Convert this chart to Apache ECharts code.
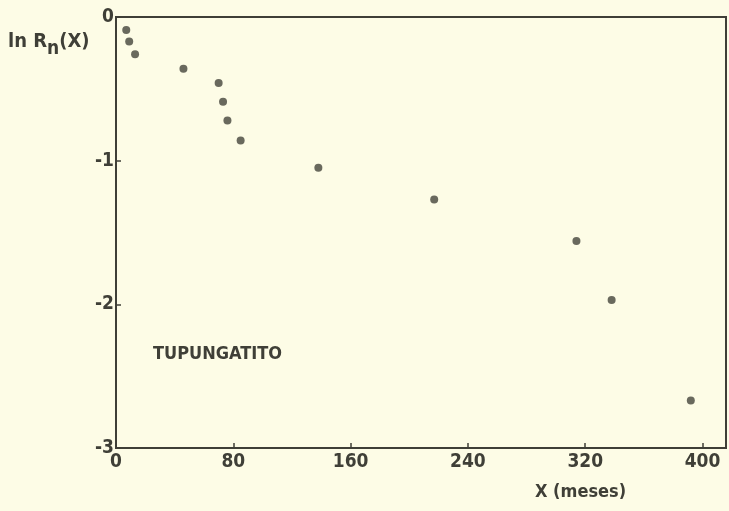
<!DOCTYPE html>
<html>
<head>
<meta charset="utf-8">
<script src="https://cdn.jsdelivr.net/npm/echarts@6/dist/echarts.min.js"></script>
<style>
  html, body { margin: 0; padding: 0; background: #fdfce6; }
  #chart { width: 729px; height: 511px; }
</style>
</head>
<body>
<div id="chart"></div>
<script>
// meses (X) y ln Rn(X)
const months = [7, 9, 13, 46, 70, 73, 76, 85, 138, 217, 314, 338, 392]
const lnR = [-0.09, -0.17, -0.26, -0.36, -0.46, -0.59, -0.72, -0.86, -1.05, -1.27, -1.56, -1.97, -2.67]
const xTicks = [0, 80, 160, 240, 320, 400]
const yTicks = [-3, -2, -1, 0]

const ink = '#3f3f37'
const font = '"DejaVu Sans Condensed", "DejaVu Sans", sans-serif'

const chart = echarts.init(document.getElementById('chart'))

const points = months.map((m, i) => [m, lnR[i]])

chart.setOption({
  backgroundColor: '#fdfce6',
  animation: false,
  grid: {
    left: 116,
    right: 3,
    top: 17,
    bottom: 63,
    show: true,
    borderColor: ink,
    borderWidth: 2,
    backgroundColor: 'transparent'
  },
  xAxis: {
    type: 'value',
    min: 0,
    max: 416,
    interval: 80,
    splitLine: { show: false },
    axisLine: { show: true, onZero: false, lineStyle: { color: ink, width: 2 } },
    axisTick: { show: true, inside: true, length: 5, lineStyle: { color: ink, width: 1.5 } },
    axisLabel: {
      color: ink,
      fontFamily: font,
      fontSize: 19,
      fontWeight: 'bold',
      margin: 5,
      showMaxLabel: false,
      formatter: v => (xTicks.includes(v) ? String(v) : '')
    }
  },
  yAxis: {
    type: 'value',
    min: -3,
    max: 0,
    interval: 1,
    splitLine: { show: false },
    axisLine: { show: true, onZero: false, lineStyle: { color: ink, width: 2 } },
    axisTick: { show: true, inside: true, length: 5, lineStyle: { color: ink, width: 1.5 } },
    axisLabel: {
      color: ink,
      fontFamily: font,
      fontSize: 19,
      fontWeight: 'bold',
      margin: 2,
      formatter: v => (yTicks.includes(v) ? String(v) : '')
    }
  },
  graphic: [
    {
      type: 'text',
      left: 8,
      top: 29,
      style: {
        text: '{a|ln R}{s|n}{a|(X)}',
        rich: {
          a: { fontFamily: font, fontSize: 20, fontWeight: 'bold', fill: ink, verticalAlign: 'top', lineHeight: 24 },
          s: { fontFamily: font, fontSize: 19, fontWeight: 'bold', fill: ink, padding: [11, 0, 0, 0], lineHeight: 24 }
        }
      }
    },
    {
      type: 'text',
      left: 535,
      top: 483,
      style: { text: 'X (meses)', fontFamily: font, fontSize: 18, fontWeight: 'bold', fill: ink }
    },
    {
      type: 'text',
      left: 153,
      top: 345,
      style: { text: 'TUPUNGATITO', fontFamily: font, fontSize: 18, fontWeight: 'bold', fill: ink }
    }
  ],
  series: [
    {
      type: 'scatter',
      data: points,
      symbol: 'circle',
      symbolSize: 8,
      itemStyle: { color: '#44443b' }
    }
  ]
})
</script>
</body>
</html>
